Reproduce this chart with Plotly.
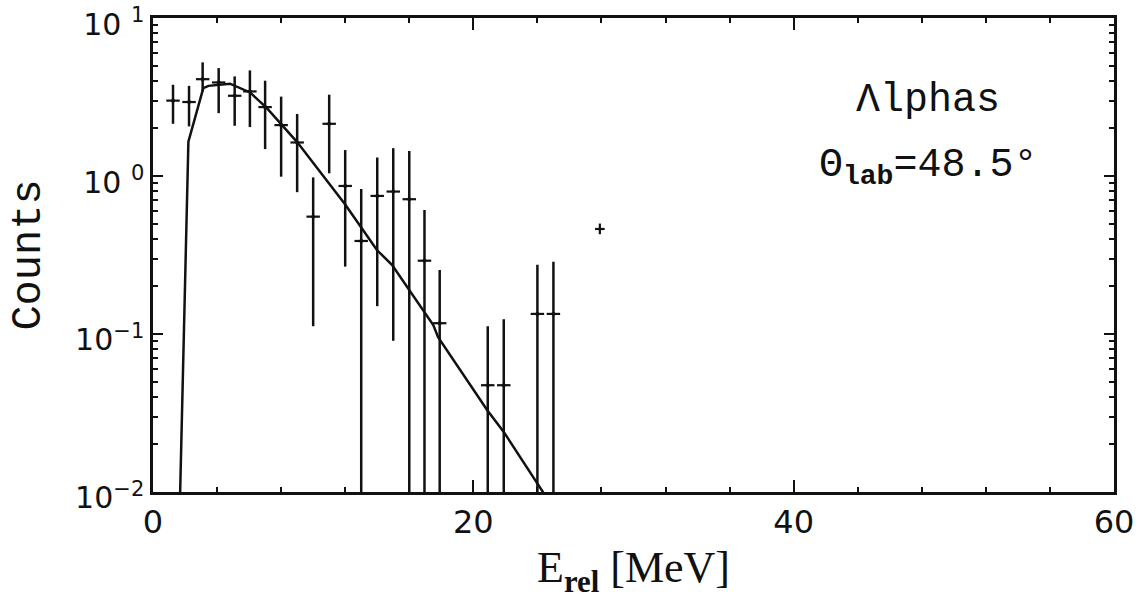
import plotly.graph_objects as go
import numpy as np

# Data
e_rel = [1.25, 2.25, 3.1, 4.1, 5.1, 6.05, 7.0, 8.0, 9.0, 10.0, 11.0, 12.0,
         13.0, 14.0, 15.0, 16.0, 16.95, 17.9, 20.9, 21.9, 24.0, 25.0]
counts = [3.0, 2.94, 4.10, 3.91, 3.22, 3.43, 2.73, 2.10, 1.63, 0.553, 2.14, 0.865,
          0.388, 0.748, 0.797, 0.713, 0.291, 0.117, 0.0474, 0.0474, 0.134, 0.134]
err_hi = [3.78, 3.72, 5.24, 4.82, 4.27, 4.66, 4.01, 3.18, 2.47, 0.98, 3.27, 1.46,
          0.828, 1.31, 1.50, 1.44, 0.609, 0.254, 0.112, 0.124, 0.274, 0.287]
# lower ends; 0.001 means the bar runs off the bottom of the axis
err_lo = [2.14, 2.06, 3.43, 2.50, 2.08, 2.04, 1.48, 0.99, 0.79, 0.112, 1.04, 0.267,
          0.001, 0.150, 0.0906, 0.001, 0.001, 0.001, 0.001, 0.001, 0.001, 0.001]

lone_e = [27.9]
lone_c = [0.462]
lone_hi = [0.50]
lone_lo = [0.428]

# Fit curve
curve_e = [1.69, 2.21, 3.14, 3.46, 4.81, 6.06, 7.11, 8.14, 9.0, 12.0, 13.98, 14.92,
           16.9, 17.5, 17.8, 20.86, 21.9, 24.4]
curve_c = [0.0095, 1.65, 3.60, 3.72, 3.84, 3.38, 2.69, 2.07, 1.64, 0.66, 0.340, 0.274,
           0.1416, 0.114, 0.0955, 0.033, 0.024, 0.0098]

x_ticks = [0, 20, 40, 60]
y_ticks = [0.01, 0.1, 1, 10]
y_tick_text = ["10<sup>\u22122</sup>", "10<sup>\u22121</sup>", "10 <sup>0</sup>", "10 <sup>1</sup>"]

black = "#111111"

fig = go.Figure()

fig.add_trace(go.Scatter(
    x=curve_e, y=curve_c, mode="lines",
    line=dict(color=black, width=2.5), hoverinfo="skip", showlegend=False))

fig.add_trace(go.Scatter(
    x=e_rel, y=counts, mode="markers",
    marker=dict(color=black, size=4),
    error_y=dict(type="data", symmetric=False,
                 array=[h - c for h, c in zip(err_hi, counts)],
                 arrayminus=[c - l for c, l in zip(counts, err_lo)],
                 color=black, thickness=2.5, width=0),
    error_x=dict(type="constant", value=0.42, color=black, thickness=2.2, width=0),
    showlegend=False))

fig.add_trace(go.Scatter(
    x=lone_e, y=lone_c, mode="markers",
    marker=dict(color=black, size=3),
    error_y=dict(type="data", symmetric=False,
                 array=[h - c for h, c in zip(lone_hi, lone_c)],
                 arrayminus=[c - l for c, l in zip(lone_c, lone_lo)],
                 color=black, thickness=2.2, width=0),
    error_x=dict(type="constant", value=0.3, color=black, thickness=2.2, width=0),
    showlegend=False))

minor_y = [m * 10.0 ** d for d in range(-2, 1) for m in range(2, 10)]

fig.update_layout(
    width=1147, height=608,
    margin=dict(l=153, r=33, t=18, b=116),
    paper_bgcolor="white", plot_bgcolor="white",
    font=dict(family="DejaVu Sans", color=black),
    xaxis=dict(
        range=[0, 60.0001], tickvals=x_ticks, ticks="inside", ticklen=12, tickwidth=2,
        tickcolor=black, showline=True, linewidth=2.5, linecolor=black,
        mirror="allticks", showgrid=False, zeroline=False, automargin=False,
        ticklabeloverflow="allow",
        tickfont=dict(family="DejaVu Sans", size=32, color=black),
        minor=dict(dtick=4, ticks="inside", ticklen=5, tickwidth=2, tickcolor=black, showgrid=False),
        title=dict(text="E<sub><b>rel</b></sub> [MeV]",
                   font=dict(family="Liberation Serif", size=44, color=black), standoff=12),
    ),
    yaxis=dict(
        type="log", range=[-2.0001, 1.0001], tickvals=y_ticks, ticktext=y_tick_text,
        ticks="inside", ticklen=10, tickwidth=2, tickcolor=black,
        showline=True, linewidth=2.5, linecolor=black, mirror="allticks",
        showgrid=False, zeroline=False, automargin=False,
        ticklabeloverflow="allow", ticklabelshift=6,
        tickfont=dict(family="DejaVu Sans", size=30, color=black),
        minor=dict(tickvals=minor_y, ticks="inside", ticklen=5, tickwidth=2, tickcolor=black, showgrid=False),
        title=dict(text="Counts", font=dict(family="Liberation Mono", size=42, color=black), standoff=22),
    ),
    annotations=[
        dict(text="\u039blphas", xref="paper", yref="paper", x=0.806, y=0.827,
             showarrow=False, xanchor="center", yanchor="middle",
             font=dict(family="Liberation Mono", size=40, color=black)),
        dict(text="\u0398<sub><b>lab</b></sub>=48.5\u00b0", xref="paper", yref="paper", x=0.806, y=0.684,
             showarrow=False, xanchor="center", yanchor="middle",
             font=dict(family="Liberation Mono", size=40, color=black)),
    ],
)

fig.write_html("out.html", config={"displayModeBar": False},
               post_script="document.body.style.margin='0';document.body.style.overflow='hidden';")
